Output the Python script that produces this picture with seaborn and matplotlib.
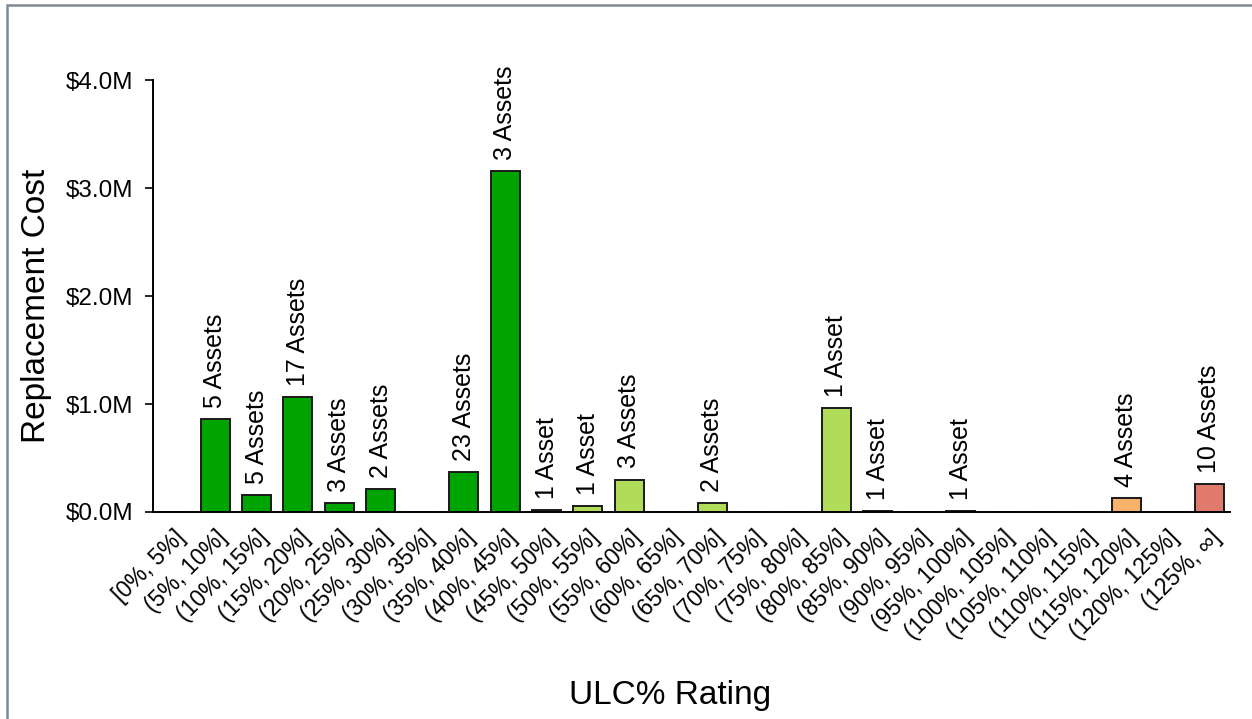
import matplotlib
matplotlib.use("Agg")
import matplotlib.pyplot as plt
import matplotlib.ticker as mticker
from matplotlib.patches import Rectangle
import seaborn as sns
import pandas as pd

# ULC% rating bands
categories = [
    "[0%, 5%]", "(5%, 10%]", "(10%, 15%]", "(15%, 20%]", "(20%, 25%]",
    "(25%, 30%]", "(30%, 35%]", "(35%, 40%]", "(40%, 45%]", "(45%, 50%]",
    "(50%, 55%]", "(55%, 60%]", "(60%, 65%]", "(65%, 70%]", "(70%, 75%]",
    "(75%, 80%]", "(80%, 85%]", "(85%, 90%]", "(90%, 95%]", "(95%, 100%]",
    "(100%, 105%]", "(105%, 110%]", "(110%, 115%]", "(115%, 120%]",
    "(120%, 125%]", "(125%, \u221e]",
]

# Replacement cost per band, in millions of dollars
cost_m = [0, 0.86, 0.16, 1.065, 0.08, 0.21, 0, 0.37, 3.16, 0.02,
          0.055, 0.30, 0, 0.08, 0, 0, 0.96, 0.012, 0, 0.012,
          0, 0, 0, 0.13, 0, 0.26]

# Number of assets in each band
asset_counts = [0, 5, 5, 17, 3, 2, 0, 23, 3, 1,
                1, 3, 0, 2, 0, 0, 1, 1, 0, 1,
                0, 0, 0, 4, 0, 10]

# Band colours: good -> poor condition
DARK_GREEN = "#00A400"
LIGHT_GREEN = "#B0DC5A"
YELLOW = "#F2DC5D"
ORANGE = "#F7B26C"
RED = "#E07A6C"
band_colors = ([DARK_GREEN] * 9 + [LIGHT_GREEN] * 8 + [YELLOW] * 3
               + [ORANGE] * 4 + [RED] * 2)

df = pd.DataFrame({"band": categories, "cost": cost_m})

sns.set_theme(style="white")
plt.rcParams["font.family"] = ["Liberation Sans", "DejaVu Sans"]
plt.rcParams["text.color"] = "black"
plt.rcParams["axes.labelcolor"] = "black"
plt.rcParams["xtick.color"] = "black"
plt.rcParams["ytick.color"] = "black"

fig = plt.figure(figsize=(12.52, 7.19), dpi=100)
ax = fig.add_axes([0.1222, 0.2879, 0.8602, 0.6008])

sns.barplot(
    data=df, x="band", y="cost", hue="band",
    palette=dict(zip(categories, band_colors)), legend=False,
    saturation=1, width=0.7, edgecolor="#1a1a1a", linewidth=1.4, ax=ax,
)

# Asset count labels above each non-empty bar
for i, (v, n) in enumerate(zip(cost_m, asset_counts)):
    if n == 0:
        continue
    text = f"{n} Asset" if n == 1 else f"{n} Assets"
    ax.annotate(text, xy=(i, v), xytext=(0, 8), textcoords="offset points",
                rotation=90, ha="center", va="bottom", fontsize=18,
                color="black")

ax.set_xlim(-0.5, len(categories) - 0.5)
ax.set_ylim(0, 4.0)
ax.yaxis.set_major_locator(mticker.MultipleLocator(1.0))
ax.yaxis.set_major_formatter(mticker.FuncFormatter(lambda v, p: f"${v:.1f}M"))

ax.set_xticks(range(len(categories)))
ax.set_xticklabels(categories, rotation=45, ha="right", va="top",
                   rotation_mode="anchor", fontsize=16.5)
ax.tick_params(axis="x", length=0, pad=10)
ax.tick_params(axis="y", length=6, width=1.2, color="black", labelsize=17.5,
               pad=8, left=True, direction="out")

for side in ("top", "right"):
    ax.spines[side].set_visible(False)
for side in ("left", "bottom"):
    ax.spines[side].set_color("black")
    ax.spines[side].set_linewidth(1.4)

ax.set_xlabel("ULC% Rating", fontsize=24)
ax.set_ylabel("Replacement Cost", fontsize=24)
ax.xaxis.set_label_coords(0.48, -0.388)
ax.yaxis.set_label_coords(-0.094, 0.477)

# Outer frame around the chart area
fig.patches.append(Rectangle((7 / 1252, -0.05), 1.1, 1 - 5 / 719 + 0.05,
                             transform=fig.transFigure, fill=False,
                             edgecolor="#7F8A96", linewidth=1.8))

fig.savefig("out.png", dpi=100, facecolor="white")
